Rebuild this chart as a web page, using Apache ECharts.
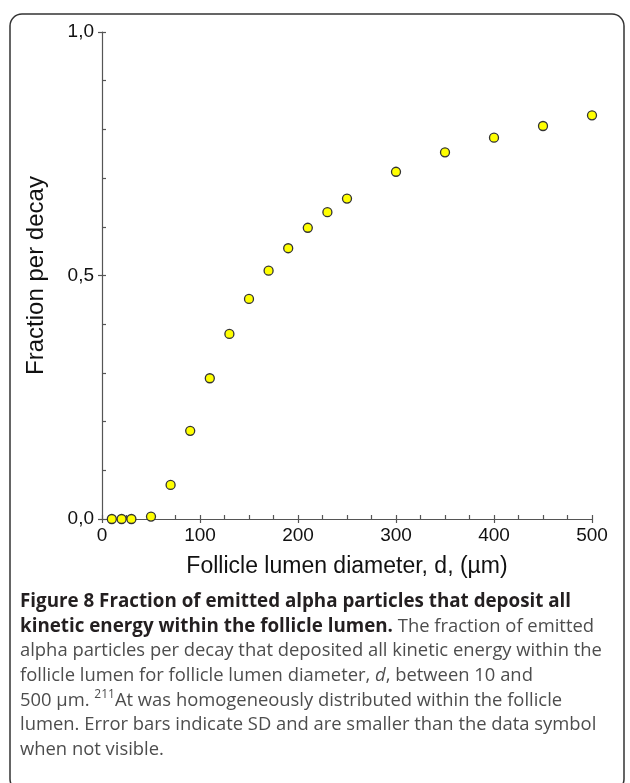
<!DOCTYPE html>
<html>
<head>
<meta charset="utf-8">
<script src="https://cdn.jsdelivr.net/npm/echarts@6/dist/echarts.min.js"></script>
<style>
html,body{margin:0;padding:0;background:#fff;}
#chart{width:630px;height:783px;}
</style>
</head>
<body>
<div id="chart"></div>
<script>
// Data
var diameters = [10, 20, 30, 50, 70, 90, 110, 130, 150, 170, 190, 210, 230, 250, 300, 350, 400, 450, 500];
var fractions = [0.0, 0.0, 0.0, 0.005, 0.070, 0.181, 0.289, 0.380, 0.452, 0.510, 0.556, 0.598, 0.630, 0.658, 0.713, 0.753, 0.783, 0.807, 0.829];
var yTickLabels = {0: '0,0', 0.5: '0,5', 1: '1,0'};
var xTickLabels = ['0', '100', '200', '300', '400', '500'];
var xTitle = 'Follicle lumen diameter, d, (\u00b5m)';
var yTitle = 'Fraction per decay';
var captionLines = [
  '{b|Figure 8 Fraction of emitted alpha particles that deposit all}',
  '{b|kinetic energy within the follicle lumen.}{r| The fraction of emitted}',
  '{r|alpha particles per decay that deposited all kinetic energy within the}',
  '{r|follicle lumen for follicle lumen diameter, }{i|d}{r|, between 10 and}',
  '{r|500 \u00b5m. }{s|211}{r|At was homogeneously distributed within the follicle}',
  '{r|lumen. Error bars indicate SD and are smaller than the data symbol}',
  '{r|when not visible.}'
];

var points = diameters.map(function (d, i) { return [d, fractions[i]]; });

var chart = echarts.init(document.getElementById('chart'), null, {renderer: 'canvas'});
var axisColor = '#555';
var labelFont = 'Liberation Sans, Arial, sans-serif';
var capFont = 'Open Sans, sans-serif';
var rich = {
  b: {fontFamily: capFont, fontWeight: 'bold', fontSize: 18.8, fill: '#231f20', lineHeight: 24},
  r: {fontFamily: capFont, fontSize: 18.4, fill: '#4d4d4d', lineHeight: 24},
  i: {fontFamily: capFont, fontSize: 18.4, fontStyle: 'italic', fill: '#4d4d4d', lineHeight: 24},
  s: {fontFamily: capFont, fontSize: 12, fill: '#4d4d4d', lineHeight: 24, verticalAlign: 'top'}
};
var graphics = [{
  type: 'rect', shape: {x: 10, y: 14, width: 614, height: 777, r: 12},
  style: {fill: 'none', stroke: '#333', lineWidth: 1.5}, silent: true, z: -1
}];
captionLines.forEach(function (t, i) {
  graphics.push({
    type: 'text', x: 20, y: 602 + i * 24.6,
    style: {text: t, rich: rich, fontFamily: capFont, fontSize: 18.4,
      align: 'left', verticalAlign: 'middle'}
  });
});

var commonX = {type: 'value', min: 0, max: 500, interval: 100, position: 'bottom',
  axisLine: {onZero: false, lineStyle: {color: axisColor, width: 1.2}}, splitLine: {show: false}};
var commonY = {type: 'value', min: 0, max: 1, interval: 0.5, position: 'left',
  axisLine: {onZero: false, lineStyle: {color: axisColor, width: 1.2}}, splitLine: {show: false}};

chart.setOption({
  animation: false,
  backgroundColor: '#fff',
  grid: {left: 102, right: 38, top: 32, bottom: 264, containLabel: false},
  xAxis: [
    Object.assign({}, commonX, {
      name: xTitle, nameLocation: 'middle', nameGap: 36,
      nameTextStyle: {fontFamily: labelFont, fontSize: 23, color: '#111'},
      axisTick: {show: true, inside: true, length: 4, lineStyle: {color: axisColor, width: 1.2}},
      minorTick: {show: true, splitNumber: 4, length: 4, lineStyle: {color: axisColor, width: 1.2}},
      axisLabel: {fontFamily: labelFont, fontSize: 19, color: '#111', margin: 7,
        formatter: function (v) { return xTickLabels[Math.round(v / 100)]; }}
    }),
    Object.assign({}, commonX, {
      axisLine: {show: false}, axisLabel: {show: false},
      axisTick: {show: true, inside: false, length: 4, lineStyle: {color: axisColor, width: 1.2}}
    })
  ],
  yAxis: [
    Object.assign({}, commonY, {
      name: yTitle, nameLocation: 'middle', nameGap: 54, nameRotate: 90,
      nameTextStyle: {fontFamily: labelFont, fontSize: 24, color: '#111'},
      axisTick: {show: true, inside: true, length: 4, lineStyle: {color: axisColor, width: 1.2}},
      minorTick: {show: true, splitNumber: 5, length: 4, lineStyle: {color: axisColor, width: 1.2}},
      axisLabel: {fontFamily: labelFont, fontSize: 19, color: '#111', margin: 8,
        formatter: function (v) { return yTickLabels[v]; }}
    }),
    Object.assign({}, commonY, {
      axisLine: {show: false}, axisLabel: {show: false},
      axisTick: {show: true, inside: false, length: 4, lineStyle: {color: axisColor, width: 1.2}}
    })
  ],
  series: [{
    type: 'scatter', data: points, xAxisIndex: 0, yAxisIndex: 0,
    symbol: 'circle', symbolSize: 9,
    itemStyle: {color: '#ffff00', borderColor: '#333', borderWidth: 1.3, opacity: 1}
  }],
  graphic: graphics
});
</script>
</body>
</html>
